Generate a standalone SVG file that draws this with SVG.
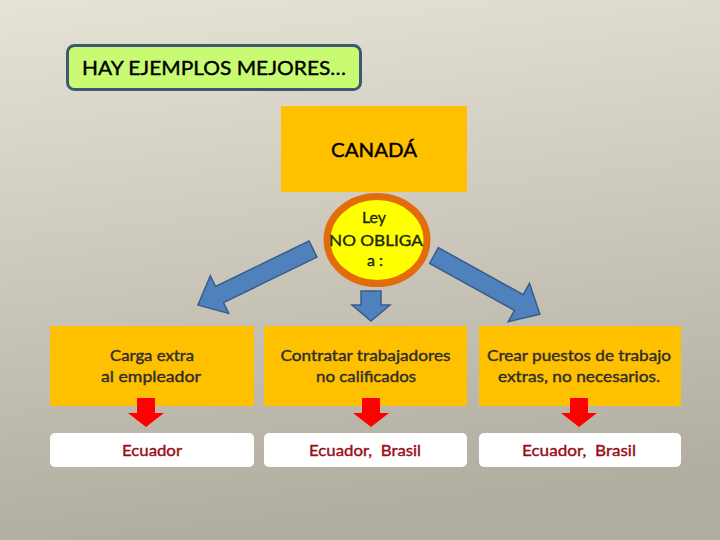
<svg xmlns="http://www.w3.org/2000/svg" width="720" height="540" viewBox="0 0 720 540">
<defs>
<linearGradient id="bg" x1="0" y1="0" x2="0.15" y2="1">
<stop offset="0" stop-color="#e6e3d6"/>
<stop offset="1" stop-color="#b2ada1"/>
</linearGradient>
</defs>
<style>
text{font-family:Lato,"Open Sans","Liberation Sans",sans-serif;text-anchor:middle;stroke-width:0.4px}
.orange{fill:#ffc000}
.white{fill:#ffffff}
.k{fill:#000;stroke:#000}
.t{font-size:16px;fill:#2e2e2a;stroke:#2e2e2a}
.g{fill:#1f2a14;stroke:#1f2a14}
.r{font-size:16px;fill:#9a0c17;stroke:#9a0c17}
.blue{fill:#4f81bd;stroke:#385d8a;stroke-width:1.5}
.red{fill:#ff0000}
</style>
<rect width="720" height="540" fill="url(#bg)"/>

<g id="title">
<rect x="67.5" y="45.5" width="293" height="44" rx="7" fill="#c9fb72" stroke="#3c5873" stroke-width="3"/>
<text class="k" x="214" y="75" style="font-size:20px" textLength="264" lengthAdjust="spacingAndGlyphs">HAY EJEMPLOS MEJORES…</text>
</g>

<g id="canada">
<rect class="orange" x="281" y="106" width="186" height="86"/>
<text class="k" x="374" y="157" style="font-size:20px" textLength="86" lengthAdjust="spacingAndGlyphs">CANADÁ</text>
</g>

<g id="ley">
<ellipse cx="377" cy="240" rx="50" ry="43.5" fill="#ffff00" stroke="#e36c0a" stroke-width="7"/>
<text class="t g" x="374" y="223">Ley</text>
<text class="t g" x="376" y="245.5" textLength="94" lengthAdjust="spacingAndGlyphs">NO OBLIGA</text>
<text class="t g" x="375" y="266">a :</text>
</g>

<g id="box1">
<rect class="orange" x="50" y="326" width="204" height="80"/>
<text class="t" x="152" y="361" textLength="84" lengthAdjust="spacingAndGlyphs">Carga extra</text>
<text class="t" x="151" y="382" textLength="100" lengthAdjust="spacingAndGlyphs">al empleador</text>
</g>
<g id="box2">
<rect class="orange" x="264" y="326" width="203" height="80"/>
<text class="t" x="365.5" y="361" textLength="170" lengthAdjust="spacingAndGlyphs">Contratar trabajadores</text>
<text class="t" x="366" y="382" textLength="100" lengthAdjust="spacingAndGlyphs">no calificados</text>
</g>
<g id="box3">
<rect class="orange" x="479" y="326" width="202" height="80"/>
<text class="t" x="579" y="361" textLength="184" lengthAdjust="spacingAndGlyphs">Crear puestos de trabajo</text>
<text class="t" x="579" y="382" textLength="162" lengthAdjust="spacingAndGlyphs">extras, no necesarios.</text>
</g>

<g id="country1">
<rect class="white" x="50" y="433" width="204" height="34" rx="5"/>
<text class="r" x="152" y="456" textLength="60" lengthAdjust="spacingAndGlyphs">Ecuador</text>
</g>
<g id="country2">
<rect class="white" x="264" y="433" width="203" height="34" rx="5"/>
<text class="r" x="365" y="456" textLength="112" lengthAdjust="spacingAndGlyphs">Ecuador,&#160; Brasil</text>
</g>
<g id="country3">
<rect class="white" x="479" y="433" width="202" height="34" rx="5"/>
<text class="r" x="579" y="456" textLength="114" lengthAdjust="spacingAndGlyphs">Ecuador,&#160; Brasil</text>
</g>

<g id="connectors">
<path class="blue" transform="translate(313,249) rotate(154)" d="M0,-9 L104,-9 L104,-21 L128,0 L104,21 L104,9 L0,9 Z"/>
<path class="blue" d="M361,291 L381,291 L381,305 L390,305 L371,321 L352,305 L361,305 Z"/>
<path class="blue" transform="translate(434,255.5) rotate(29)" d="M0,-9 L97,-9 L97,-22 L121,0 L97,22 L97,9 L0,9 Z"/>
<path class="red" d="M137,398 L155,398 L155,413 L164,413 L146,427 L128,413 L137,413 Z"/>
<path class="red" d="M362,398 L380,398 L380,413 L389,413 L371,427 L353,413 L362,413 Z"/>
<path class="red" d="M570,398 L588,398 L588,413 L597,413 L579,427 L561,413 L570,413 Z"/>
</g>
</svg>
